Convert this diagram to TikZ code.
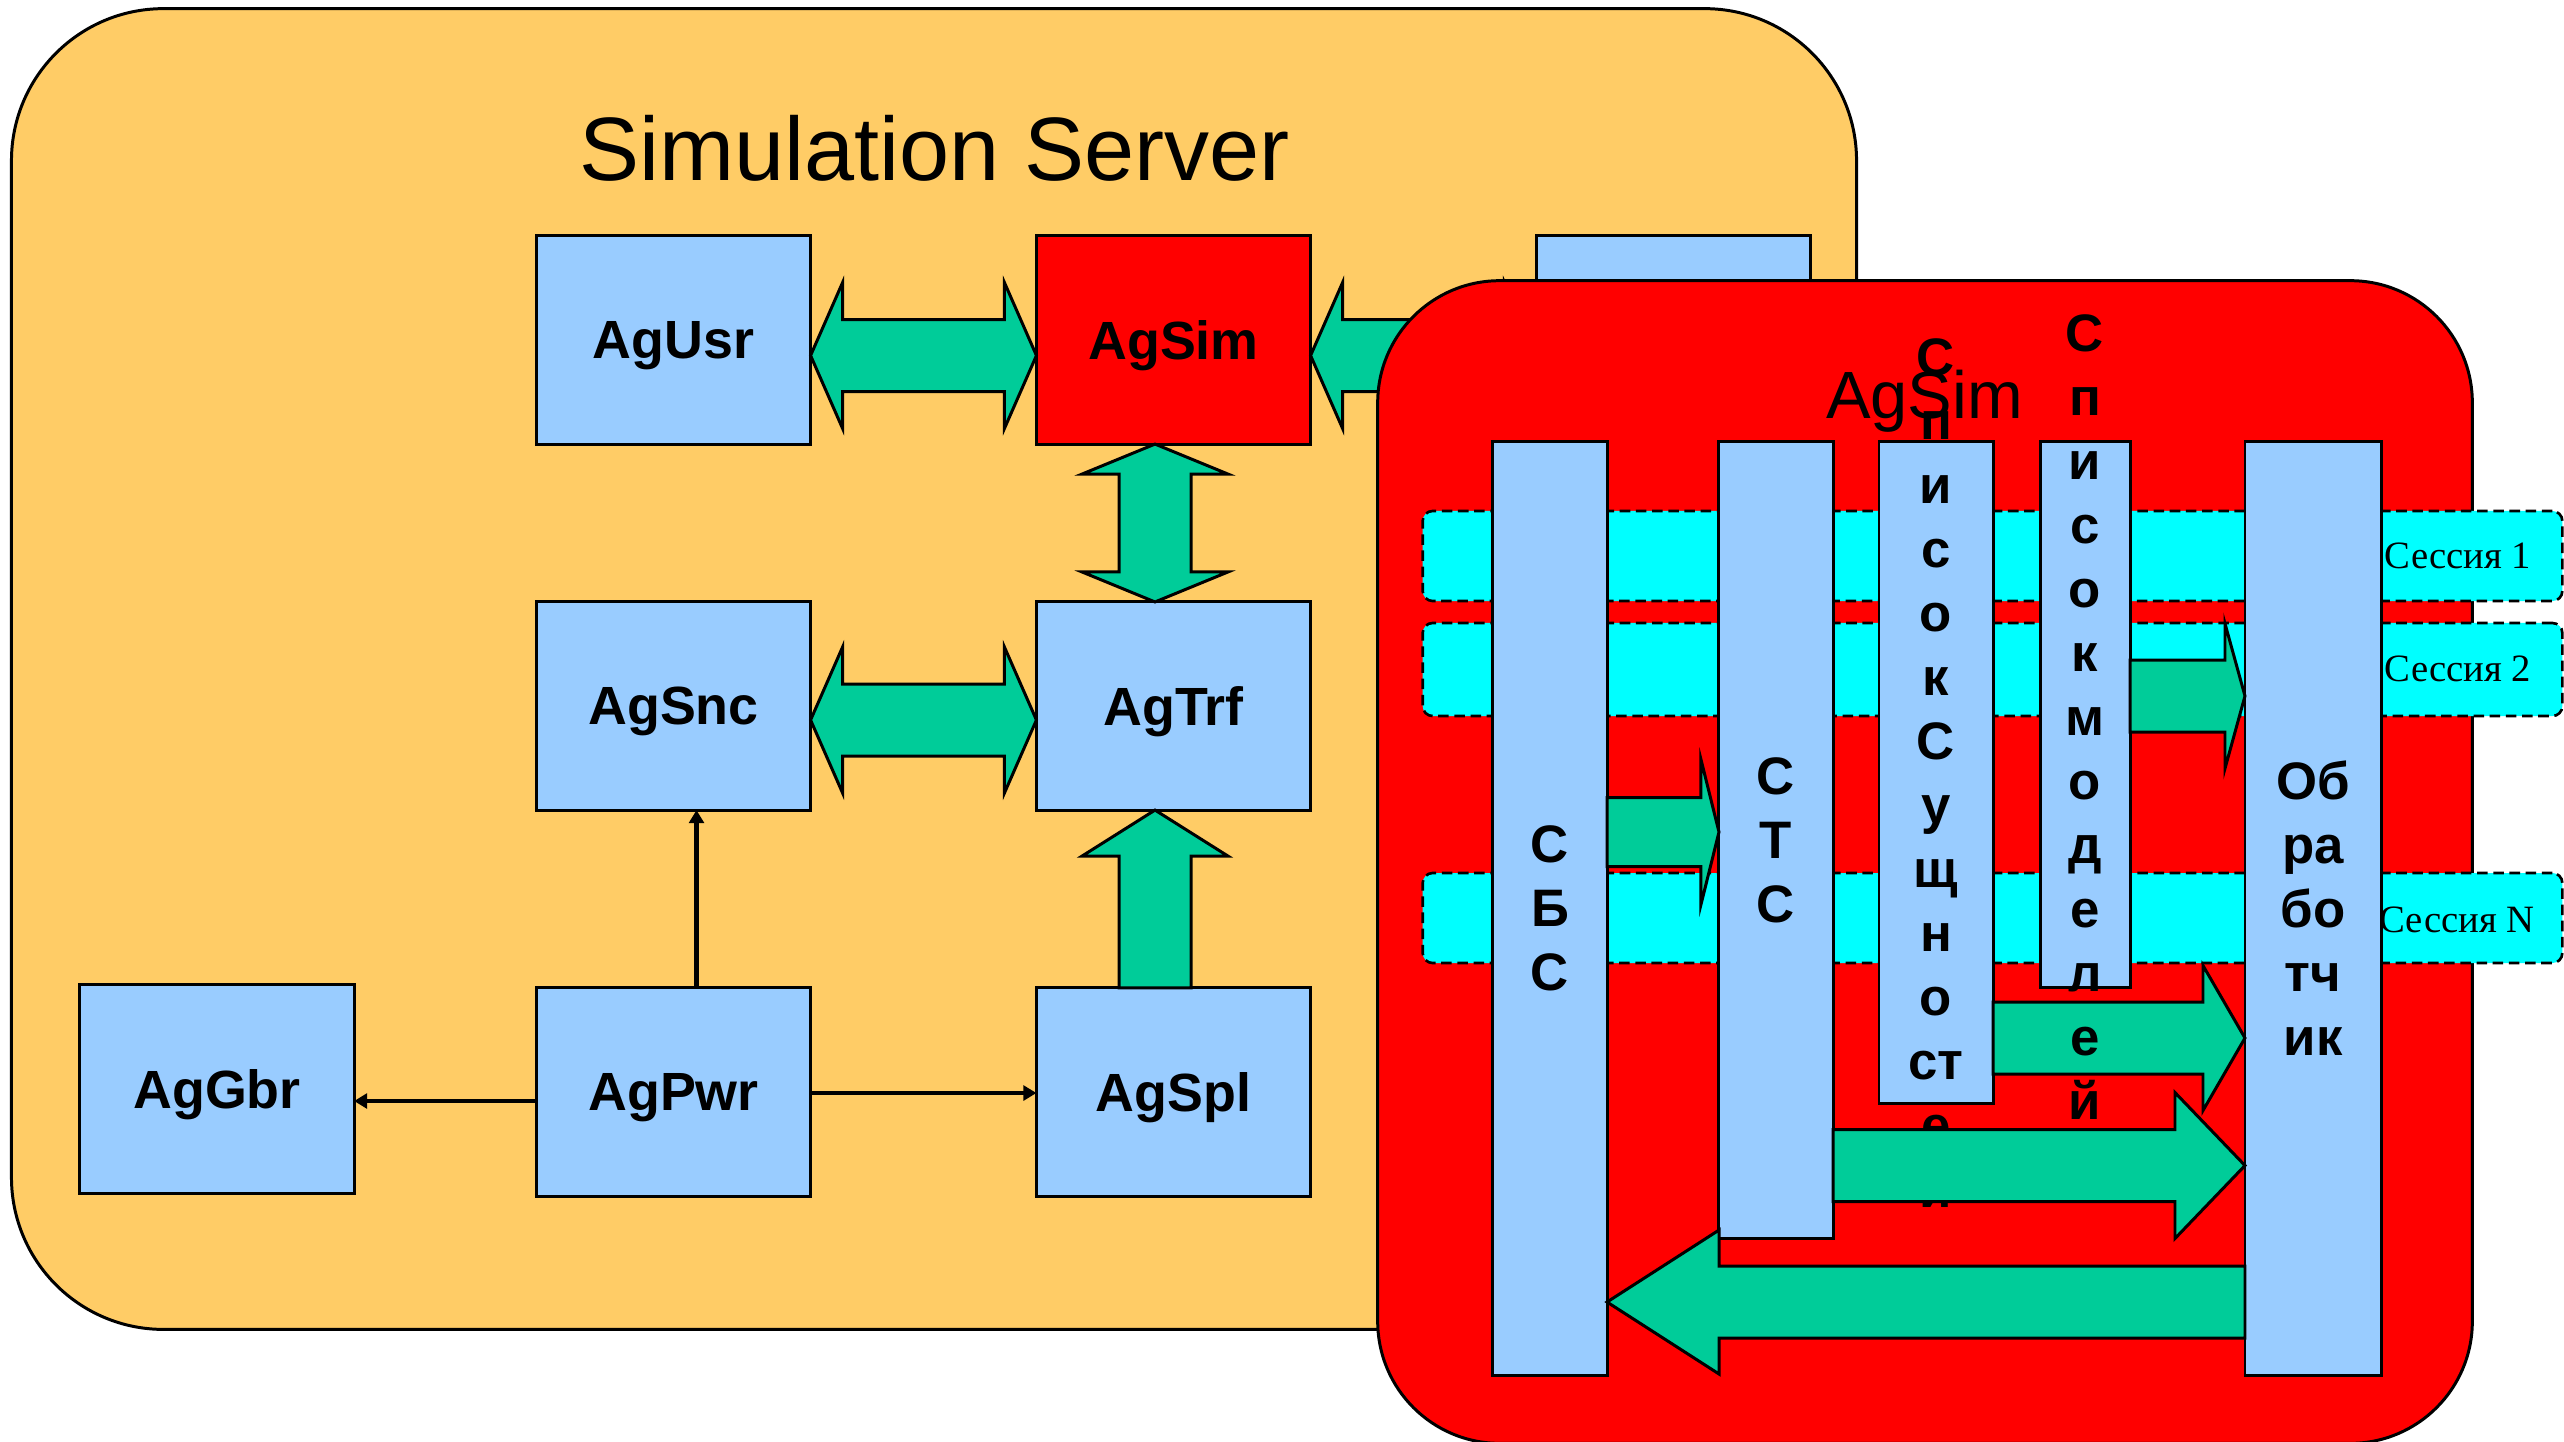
\documentclass[tikz,border=0pt]{standalone}
\usepackage{fontspec}
\usetikzlibrary{calc,arrows.meta}
\newfontfamily\sansfam{Liberation Sans}
\newfontfamily\seriffam{Liberation Serif}

\definecolor{serverbg}{HTML}{FFCC66}
\definecolor{agentblue}{HTML}{99CCFF}
\definecolor{simred}{HTML}{FF0000}
\definecolor{flowgreen}{HTML}{00CC99}
\definecolor{sessioncyan}{HTML}{00FFFF}

\tikzset{
  container/.style={draw=black, line width=0.85pt, inner sep=0pt, outer sep=0pt},
  agent/.style={draw=black, line width=0.85pt, fill=agentblue, minimum width=2.74cm,
    minimum height=2.08cm, inner sep=0pt, outer sep=0pt, text depth=0pt,
    font=\sansfam\bfseries\fontsize{15.3}{18}\selectfont},
  column/.style={draw=black, line width=0.85pt, fill=agentblue, inner sep=0pt, outer sep=0pt},
  coltext/.style={font=\sansfam\bfseries\fontsize{15}{18.2}\selectfont, align=center, inner sep=0pt},
  session/.style={draw=black, line width=0.75pt, dash pattern=on 3pt off 1.6pt,
    fill=sessioncyan, rounded corners=0.1cm, inner sep=0pt, outer sep=0pt, minimum width=11.39cm},
  sessionlabel/.style={font=\seriffam\fontsize{11}{13}\selectfont, anchor=base, inner sep=0pt},
  flow/.style={draw=black, fill=flowgreen, line width=0.85pt},
  link/.style={draw=black, line width=1.2pt, -{Triangle[length=3.7pt,width=4.2pt]}},
}

% block arrow along x: tail, tip, shaft half-width, head half-width, signed head length
\newcommand{\hblock}[5]{%
  \draw[flow] ($(#1)+(0,#3)$) -- ($(#2)+({-(#5)},#3)$) -- ($(#2)+({-(#5)},#4)$) -- (#2)
    -- ($(#2)+({-(#5)},{-(#4)})$) -- ($(#2)+({-(#5)},{-(#3)})$) -- ($(#1)+(0,{-(#3)})$) -- cycle;}
% block arrow along y (pointing up): tail, tip, shaft half-width, head half-width, head length
\newcommand{\vblock}[5]{%
  \draw[flow] ($(#1)+(#3,0)$) -- ($(#2)+(#3,#5)$) -- ($(#2)+(#4,#5)$) -- (#2)
    -- ($(#2)+({-(#4)},#5)$) -- ($(#2)+({-(#3)},#5)$) -- ($(#1)+({-(#3)},0)$) -- cycle;}
% two-headed block arrow along x: left tip, right tip, shaft half-width, head half-width, head length
\newcommand{\hdouble}[5]{%
  \draw[flow] (#1) -- ($(#1)+(#5,#4)$) -- ($(#1)+(#5,#3)$) -- ($(#2)+({-(#5)},#3)$)
    -- ($(#2)+({-(#5)},#4)$) -- (#2) -- ($(#2)+({-(#5)},{-(#4)})$) -- ($(#2)+({-(#5)},{-(#3)})$)
    -- ($(#1)+(#5,{-(#3)})$) -- ($(#1)+(#5,{-(#4)})$) -- cycle;}
% two-headed block arrow along y: top tip, bottom tip, shaft half-width, head half-width, head length
\newcommand{\vdouble}[5]{%
  \draw[flow] (#1) -- ($(#1)+(#4,#5)$) -- ($(#1)+(#3,#5)$) -- ($(#2)+(#3,{-(#5)})$)
    -- ($(#2)+(#4,{-(#5)})$) -- (#2) -- ($(#2)+({-(#4)},{-(#5)})$) -- ($(#2)+({-(#3)},{-(#5)})$)
    -- ($(#1)+({-(#3)},#5)$) -- ($(#1)+({-(#4)},#5)$) -- cycle;}

\begin{document}
\begin{tikzpicture}[x=0.01cm, y=-0.01cm, line width=0.85pt]
\clip (0,0) rectangle (2564,1441);

% ---------- simulation server ----------
\node[container, fill=serverbg, rounded corners=1.52cm, minimum width=18.44cm, minimum height=13.20cm]
  (server) at (934,669) {};
\node[font=\sansfam\fontsize{25.6}{30}\selectfont, anchor=base, inner sep=0pt]
  (servertitle) at (934.5,180) {Simulation Server};

\node[agent] (agusr) at (673.5,340) {AgUsr};
\node[agent, fill=simred] (agsim) at (1173.5,340) {AgSim};
\node[agent] (aghid) at (1673.5,340) {};
\node[agent] (agsnc) at (673.5,706) {AgSnc};
\node[agent] (agtrf) at (1173.5,706) {AgTrf};
\node[agent] (aggbr) at (217,1089) {AgGbr};
\node[agent] (agpwr) at (673.5,1092) {AgPwr};
\node[agent] (agspl) at (1173.5,1092) {AgSpl};

% exchanges between the agents
\coordinate (usrR) at ($(agusr.east)+(0,15.5)$);
\coordinate (simL) at (usrR -| agsim.west);
\hdouble{usrR}{simL}{36}{73}{32}
\coordinate (simR) at ($(agsim.east)+(0,15.5)$);
\coordinate (hidL) at (simR -| aghid.west);
\hdouble{simR}{hidL}{36}{73}{32}
\coordinate (sncR) at ($(agsnc.east)+(0,14)$);
\coordinate (trfL) at (sncR -| agtrf.west);
\hdouble{sncR}{trfL}{36}{73}{32}
\coordinate (simB) at ($(agsim.south)+(-18.5,0)$);
\coordinate (trfT) at (simB |- agtrf.north);
\vdouble{simB}{trfT}{36}{73}{30}
\coordinate (splT) at ($(agspl.north)+(-18.5,0)$);
\coordinate (trfB) at (splT |- agtrf.south);
\vblock{splT}{trfB}{36}{73}{46}

\coordinate (pwrW) at ($(agpwr.west)+(0,9)$);
\draw[link] (pwrW) -- (pwrW -| aggbr.east);
\coordinate (pwrE) at ($(agpwr.east)+(0,1)$);
\draw[link] (pwrE) -- (pwrE -| agspl.west);
\coordinate (pwrN) at ($(agpwr.north)+(23,0)$);
\draw[link] (pwrN) -- (pwrN |- agsnc.south);

% ---------- AgSim internals ----------
\node[container, fill=simred, rounded corners=1.22cm, minimum width=10.94cm, minimum height=11.62cm]
  (simbox) at (1925,862) {};
\node[font=\sansfam\fontsize{19}{22}\selectfont, anchor=base, inner sep=0pt]
  (simtitle) at (1924.5,418) {AgSim};

\node[session, minimum height=0.90cm] (ses1) at (1992.5,556) {};
\node[session, minimum height=0.93cm] (ses2) at (1992.5,669.5) {};
\node[session, minimum height=0.90cm] (sesn) at (1992.5,918) {};
\node[sessionlabel] (ses1lab) at (2458,568) {Сессия 1};
\node[sessionlabel] (ses2lab) at (2458,681) {Сессия 2};
\node[sessionlabel] (sesnlab) at (2457,932) {Сессия N};

\node[column, minimum width=1.14cm, minimum height=9.33cm] (sbs) at (1550,908.5) {};
\node[column, minimum width=1.14cm, minimum height=7.96cm] (sts) at (1776,840) {};
\node[column, minimum width=1.14cm, minimum height=6.61cm] (sush) at (1936,772.5) {};
\node[column, minimum width=0.90cm, minimum height=5.45cm] (mods) at (2085,714.5) {};
\node[column, minimum width=1.36cm, minimum height=9.33cm] (obr) at (2313,908.5) {};

\node[coltext] (sbstext) at (sbs) {С\\Б\\С};
\node[coltext] (ststext) at (sts) {С\\Т\\С};
\node[coltext] (sushtext) at (1936,773) {С\\п\\и\\с\\о\\к\\С\\у\\щ\\н\\о\\ст\\е\\й};
\node[coltext] (obrtext) at (obr) {Об\\ра\\бо\\тч\\ик};

% data flow inside AgSim
\coordinate (sbsE) at ($(sbs.east)+(0,-76.5)$);
\coordinate (stsW) at (sbsE -| sts.west);
\hblock{sbsE}{stsW}{34.5}{72.5}{18}
\coordinate (modE) at ($(mods.east)+(0,-18.5)$);
\coordinate (obrW1) at (modE -| obr.west);
\hblock{modE}{obrW1}{36}{72.5}{20}
\coordinate (sushE) at ($(sush.east)+(0,265.5)$);
\coordinate (obrW2) at (sushE -| obr.west);
\hblock{sushE}{obrW2}{36}{72.5}{42}
\coordinate (stsE) at ($(sts.east)+(0,325.5)$);
\coordinate (obrW3) at (stsE -| obr.west);
\hblock{stsE}{obrW3}{36}{73}{70}
\coordinate (obrW4) at ($(obr.west)+(0,393.5)$);
\coordinate (sbsE2) at (obrW4 -| sbs.east);
\hblock{obrW4}{sbsE2}{36}{72}{-112}

\node[coltext] (modtext) at (2085,717) {С\\п\\и\\с\\о\\к\\м\\о\\д\\е\\л\\е\\й};
\end{tikzpicture}
\end{document}
